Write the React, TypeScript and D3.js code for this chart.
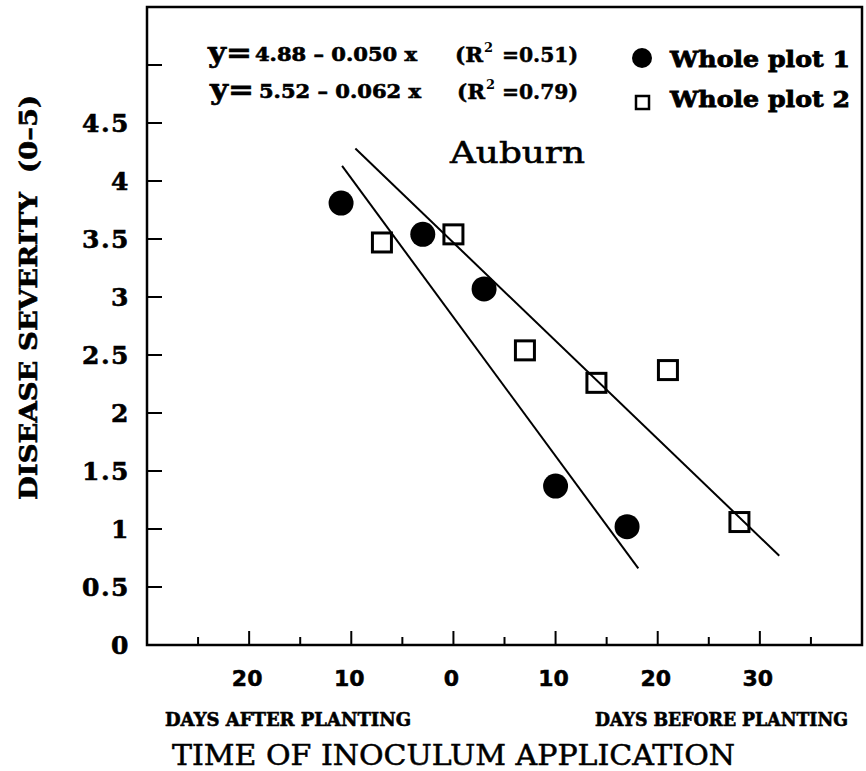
import React, { useEffect, useRef } from 'react';
import * as d3 from 'd3';

// days relative to planting: negative = after planting, positive = before
const plot1Days = [-11, -3, 3, 10, 17];
const plot1Severity = [3.81, 3.54, 3.07, 1.37, 1.02];
const plot2Days = [-7, 0, 7, 14, 21, 28];
const plot2Severity = [3.47, 3.54, 2.54, 2.26, 2.37, 1.06];

// fitted regression lines (end points)
const fit1Days = [-10.9, 18.1];
const fit1Severity = [4.13, 0.66];
const fit2Days = [-9.6, 31.9];
const fit2Severity = [4.28, 0.77];

const yTickValues = [0, 0.5, 1, 1.5, 2, 2.5, 3, 3.5, 4, 4.5, 5];
const yTickLabels = ['0', '0.5', '1', '1.5', '2', '2.5', '3', '3.5', '4', '4.5', ''];
const xMajorTicks = [-20, -10, 0, 10, 20, 30];
const xTickLabels = ['20', '10', '0', '10', '20', '30'];
const xMinorTicks = [-25, -15, -5, 5, 15, 25, 35];

const equations = [
  { lead: 'y=', body: '4.88 \u2013 0.050 x', r2: '=0.51)' },
  { lead: 'y=', body: '5.52 \u2013 0.062 x', r2: '=0.79)' },
];
const seriesNames = ['Whole plot 1', 'Whole plot 2'];

const SERIF = "'DejaVu Serif', serif";
const SANS = "'DejaVu Sans', sans-serif";

const drawChart = (node: SVGSVGElement) => {
  const svg = d3.select(node);
  svg.selectAll('*').remove();

  const x = d3.scaleLinear().domain([-30, 40]).range([147, 862]);
  const y = d3.scaleLinear().domain([0, 5.5]).range([645, 7]);

  // frame
  svg
    .append('rect')
    .attr('x', x(-30))
    .attr('y', y(5.5))
    .attr('width', x(40) - x(-30))
    .attr('height', y(0) - y(5.5))
    .attr('fill', 'none')
    .attr('stroke', '#000')
    .attr('stroke-width', 2.5);

  // y ticks
  svg
    .selectAll('line.ytick')
    .data(yTickValues)
    .enter()
    .append('line')
    .attr('x1', x(-30))
    .attr('x2', x(-30) + 15)
    .attr('y1', d => y(d))
    .attr('y2', d => y(d))
    .attr('stroke', '#000')
    .attr('stroke-width', 2);

  svg
    .selectAll('text.ylab')
    .data(yTickValues)
    .enter()
    .append('text')
    .attr('x', 130)
    .attr('y', d => y(d) + 9)
    .attr('text-anchor', 'end')
    .style('font-family', SERIF)
    .style('font-weight', 'bold')
    .style('font-size', '25px')
    .style('letter-spacing', '1.5px')
    .style('stroke', '#000')
    .style('stroke-width', '0.6px')
    .text((d, i) => yTickLabels[i]);

  // x ticks
  svg
    .selectAll('line.xmajor')
    .data(xMajorTicks)
    .enter()
    .append('line')
    .attr('x1', d => x(d))
    .attr('x2', d => x(d))
    .attr('y1', y(0))
    .attr('y2', y(0) - 14)
    .attr('stroke', '#000')
    .attr('stroke-width', 2);

  svg
    .selectAll('line.xminor')
    .data(xMinorTicks)
    .enter()
    .append('line')
    .attr('x1', d => x(d))
    .attr('x2', d => x(d))
    .attr('y1', y(0))
    .attr('y2', y(0) - 8)
    .attr('stroke', '#000')
    .attr('stroke-width', 2);

  svg
    .selectAll('text.xlab')
    .data(xMajorTicks)
    .enter()
    .append('text')
    .attr('x', d => x(d) - 2)
    .attr('y', 686)
    .attr('text-anchor', 'middle')
    .style('font-family', SANS)
    .style('font-weight', 'bold')
    .style('font-size', '22px')
    .style('stroke', '#000')
    .style('stroke-width', '0.5px')
    .text((d, i) => xTickLabels[i]);

  // axis sub labels and titles
  const addText = (
    t: string,
    xp: number,
    yp: number,
    size: number,
    weight: string,
    family: string,
    len?: number,
    thick = 0
  ) => {
    const el = svg
      .append('text')
      .attr('x', xp)
      .attr('y', yp)
      .style('font-family', family)
      .style('font-weight', weight)
      .style('font-size', size + 'px')
      .text(t);
    if (len) el.attr('textLength', len).attr('lengthAdjust', 'spacingAndGlyphs');
    if (thick) el.style('stroke', '#000').style('stroke-width', thick + 'px');
    return el;
  };

  addText('DAYS AFTER PLANTING', 165, 726, 18, 'bold', SERIF, 246, 0.6);
  addText('DAYS BEFORE PLANTING', 595, 726, 18, 'bold', SERIF, 253, 0.6);
  addText('TIME OF INOCULUM APPLICATION', 172, 765, 28, 'normal', SERIF, 563, 0.5);

  svg
    .append('text')
    .attr('transform', 'translate(37,500) rotate(-90)')
    .attr('textLength', 405)
    .attr('lengthAdjust', 'spacingAndGlyphs')
    .style('font-family', SERIF)
    .style('font-weight', 'bold')
    .style('font-size', '25px')
    .style('white-space', 'pre')
    .style('stroke', '#000')
    .style('stroke-width', '0.6px')
    .text('DISEASE SEVERITY  (0\u20135)');

  addText('Auburn', 450, 163, 30, 'normal', SERIF, 135, 0.6);

  // regression equations
  const eqBase = [62, 99];
  equations.forEach((eq, i) => {
    const b = eqBase[i];
    const dx = i === 0 ? 0 : 2;
    addText(eq.lead, 208 + dx, b, 28, 'bold', SERIF, 44, 0.6);
    addText(eq.body, 255 + dx * 2, b - 1, 18, 'bold', SERIF, 162, 0.6);
    addText('(R', 455 + dx, b, 20, 'bold', SERIF, 28, 0.5);
    addText('2', 484 + dx, b - 10, 13, 'bold', SERIF);
    addText(eq.r2, 502, b, 20, 'bold', SERIF, 76, 0.5);
  });

  // legend
  svg.append('circle').attr('cx', 642).attr('cy', 58).attr('r', 10).attr('fill', '#000');
  svg
    .append('rect')
    .attr('x', 636)
    .attr('y', 96)
    .attr('width', 13)
    .attr('height', 13)
    .attr('fill', 'none')
    .attr('stroke', '#000')
    .attr('stroke-width', 2.5);
  addText(seriesNames[0], 670, 67, 22, 'bold', SERIF, 180, 0.8);
  addText(seriesNames[1], 670, 107, 22, 'bold', SERIF, 180, 0.8);

  // regression lines
  const fits = [
    { days: fit1Days, sev: fit1Severity },
    { days: fit2Days, sev: fit2Severity },
  ];
  fits.forEach(f => {
    const pts: [number, number][] = f.days.map((d, i) => [x(d), y(f.sev[i])]);
    svg
      .append('path')
      .attr('d', d3.line()(pts) || '')
      .attr('fill', 'none')
      .attr('stroke', '#000')
      .attr('stroke-width', 2);
  });

  // whole plot 2: open squares
  const sq = 19;
  svg
    .selectAll('rect.p2')
    .data(plot2Days)
    .enter()
    .append('rect')
    .attr('x', d => x(d) - sq / 2)
    .attr('y', (d, i) => y(plot2Severity[i]) - sq / 2)
    .attr('width', sq)
    .attr('height', sq)
    .attr('fill', 'none')
    .attr('stroke', '#000')
    .attr('stroke-width', 3);

  // whole plot 1: filled circles
  svg
    .selectAll('circle.p1')
    .data(plot1Days)
    .enter()
    .append('circle')
    .attr('cx', d => x(d))
    .attr('cy', (d, i) => y(plot1Severity[i]))
    .attr('r', 12.5)
    .attr('fill', '#000');
};

const App = () => {
  const ref = useRef<SVGSVGElement>(null);
  useEffect(() => {
    if (ref.current) drawChart(ref.current);
  });
  return (
    <svg
      ref={ref}
      width={866}
      height={771}
      style={{ position: 'absolute', left: 0, top: 0, background: '#fff' }}
    />
  );
};

export default App;
